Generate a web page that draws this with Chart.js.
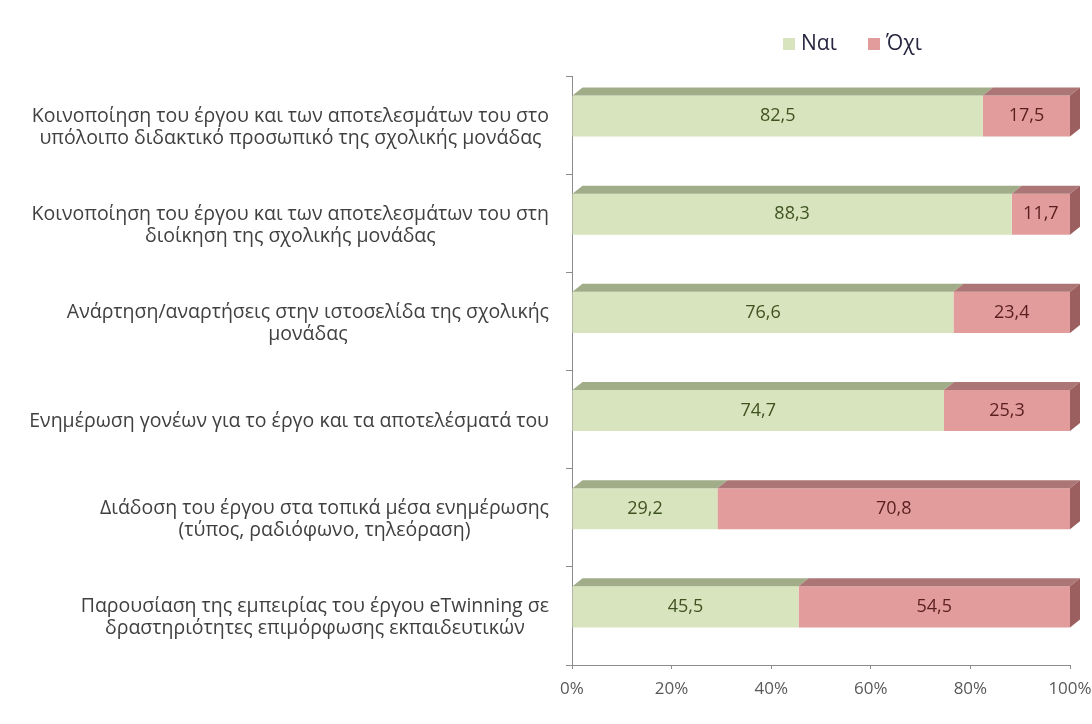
<!DOCTYPE html>
<html>
<head>
<meta charset="utf-8">
<script src="https://cdn.jsdelivr.net/npm/chart.js@4/dist/chart.umd.min.js"></script>
<style>
  body { margin: 0; background: #fff; }
  canvas { display: block; }
</style>
</head>
<body>
<canvas id="chart" width="1092" height="724"></canvas>
<script>
const categories = [
    ['Κοινοποίηση του έργου και των αποτελεσμάτων του στο', 'υπόλοιπο διδακτικό προσωπικό της σχολικής μονάδας'],
    ['Κοινοποίηση του έργου και των αποτελεσμάτων του στη', 'διοίκηση της σχολικής μονάδας'],
    ['Ανάρτηση/αναρτήσεις στην ιστοσελίδα της σχολικής', 'μονάδας'],
    ['Ενημέρωση γονέων για το έργο και τα αποτελέσματά του'],
    ['Διάδοση του έργου στα τοπικά μέσα ενημέρωσης', '(τύπος, ραδιόφωνο, τηλεόραση)'],
    ['Παρουσίαση της εμπειρίας του έργου eTwinning σε', 'δραστηριότητες επιμόρφωσης εκπαιδευτικών']
];
const yesValues = [82.5, 88.3, 76.6, 74.7, 29.2, 45.5];
const noValues = [17.5, 11.7, 23.4, 25.3, 70.8, 54.5];
const xTicks = [0, 20, 40, 60, 80, 100];

const GREEN = '#d7e4bd', GREEN_TOP = '#a1ad89';
const RED = '#e29c9c', RED_TOP = '#ad7676', RED_SIDE = '#9c5f5f';
const DX = 10, DY = 8;

// fake 3d faces + value labels on the bars
const bar3d = {
    id: 'bar3d',
    afterDatasetsDraw(chart) {
        const c = chart.ctx;
        const tops = [GREEN_TOP, RED_TOP];
        [0, 1].forEach(d => {
            chart.getDatasetMeta(d).data.forEach(bar => {
                const l = Math.min(bar.base, bar.x), r = Math.max(bar.base, bar.x);
                const t = bar.y - bar.height / 2, b = bar.y + bar.height / 2;
                c.fillStyle = tops[d];
                c.beginPath();
                c.moveTo(l, t); c.lineTo(l + DX, t - DY); c.lineTo(r + DX, t - DY); c.lineTo(r, t);
                c.closePath(); c.fill();
                if (d === 1) {
                    c.fillStyle = RED_SIDE;
                    c.beginPath();
                    c.moveTo(r, t); c.lineTo(r + DX, t - DY); c.lineTo(r + DX, b - DY); c.lineTo(r, b);
                    c.closePath(); c.fill();
                }
            });
        });
        c.font = '18px "Open Sans"';
        c.textAlign = 'center';
        c.textBaseline = 'middle';
        const txt = ['#3f5220', '#5a1f1d'];
        [0, 1].forEach(d => {
            const vals = chart.data.datasets[d].data;
            chart.getDatasetMeta(d).data.forEach((bar, i) => {
                c.fillStyle = txt[d];
                c.fillText(String(vals[i]).replace('.', ','), (bar.base + bar.x) / 2, bar.y);
            });
        });
    },
    afterDraw(chart) {
        const c = chart.ctx;
        const ys = chart.scales.y;
        // category labels: block right aligned, lines centred
        c.font = '19.5px "Open Sans"';
        c.fillStyle = '#404040';
        c.textAlign = 'center';
        c.textBaseline = 'middle';
        categories.forEach((lines, i) => {
            const w = Math.max(...lines.map(s => c.measureText(s).width));
            const cx = ys.right - 23 - w / 2;
            const cy = ys.getPixelForValue(i) + 2;
            lines.forEach((s, k) => {
                c.fillText(s, cx, cy - (lines.length - 1) * 11 + k * 22);
            });
        });
        // legend
        c.font = '21px "Open Sans"';
        c.textAlign = 'left';
        const items = [[783, 0], [868, 1]];
        items.forEach(([x, d]) => {
            const ds = chart.data.datasets[d];
            c.fillStyle = ds.backgroundColor;
            c.fillRect(x, 38, 12, 12);
            c.fillStyle = '#262640';
            c.fillText(ds.label, x + 18, 44);
        });
    }
};

new Chart(document.getElementById('chart'), {
    type: 'bar',
    data: {
        labels: categories,
        datasets: [
            { label: 'Ναι', data: yesValues, backgroundColor: GREEN, stack: 'a' },
            { label: 'Όχι', data: noValues, backgroundColor: RED, stack: 'a' },
            // empty stack, only pushes the real bars up a bit like the 3d original
            { label: '', data: yesValues.map(() => 0), backgroundColor: 'rgba(0,0,0,0)', stack: 'pad' }
        ]
    },
    options: {
        indexAxis: 'y',
        responsive: false,
        animation: false,
        devicePixelRatio: 1,
        categoryPercentage: 0.367,
        barPercentage: 2.28,
        borderWidth: 0,
        layout: { padding: { top: 76, right: 22, left: 0, bottom: 0 } },
        plugins: { legend: { display: false }, tooltip: { enabled: false } },
        scales: {
            x: {
                stacked: true,
                min: 0,
                max: 100,
                afterBuildTicks: s => { s.ticks = xTicks.map(v => ({ value: v })); },
                afterFit: s => { s.height = 59; s.paddingRight = 0; s.paddingLeft = 0; },
                ticks: {
                    callback: v => v + '%',
                    color: '#595959',
                    font: { family: 'Open Sans', size: 17 },
                    padding: 10
                },
                grid: { drawOnChartArea: false, tickLength: 4, color: '#8c8c8c' },
                border: { color: '#8c8c8c' }
            },
            y: {
                stacked: true,
                afterFit: s => { s.width = 572; },
                ticks: { display: false },
                grid: { drawOnChartArea: false, tickLength: 6, offset: true, color: '#8c8c8c' },
                border: { color: '#8c8c8c' }
            }
        }
    },
    plugins: [bar3d]
});
</script>
</body>
</html>
